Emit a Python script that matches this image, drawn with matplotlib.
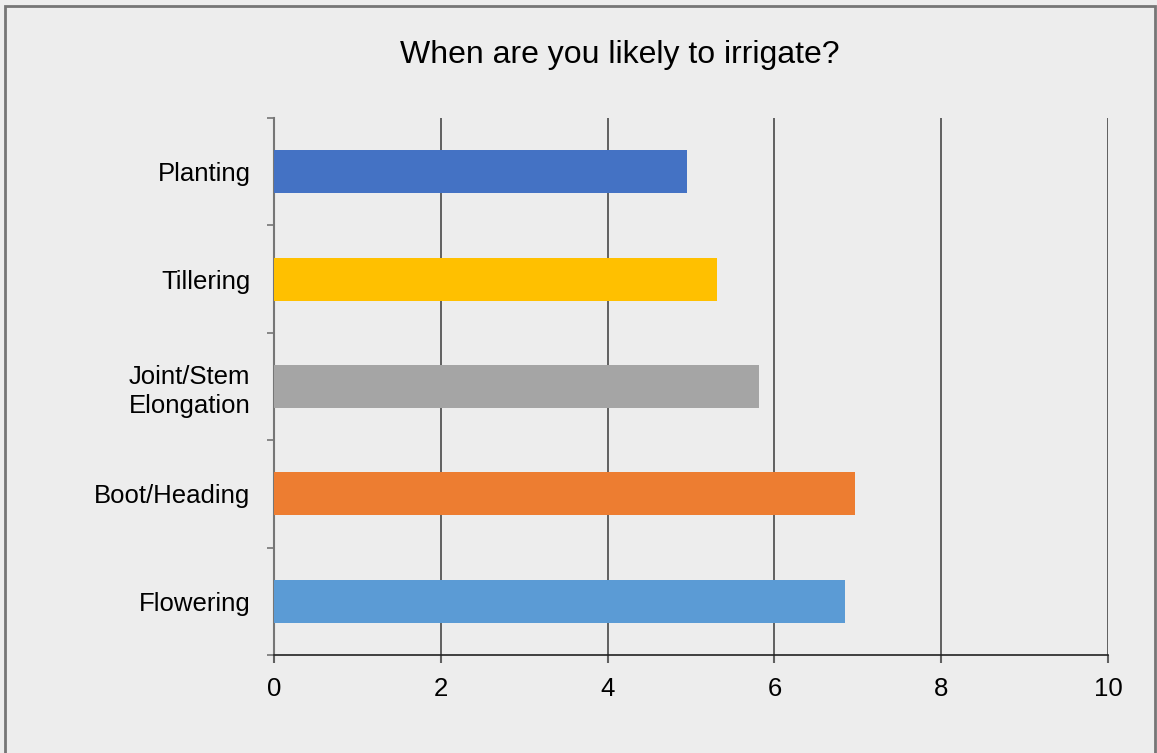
import matplotlib.pyplot as plt
from matplotlib.patches import Rectangle

plt.rcParams['font.family'] = ['Liberation Sans', 'DejaVu Sans']

stages = ['Planting', 'Tillering', 'Joint/Stem\nElongation', 'Boot/Heading', 'Flowering']
values = [4.95, 5.31, 5.82, 6.97, 6.85]
colors = ['#4472C4', '#FFC000', '#A5A5A5', '#ED7D31', '#5B9BD5']
xticks = [0, 2, 4, 6, 8, 10]

bg = '#EDEDED'
fig = plt.figure(figsize=(11.57, 7.53), dpi=100, facecolor=bg)
fig.patches.append(Rectangle((5 / 1157, -0.01), 1150 / 1157, 1.0 - 6 / 753 + 0.01,
                             transform=fig.transFigure, fill=False,
                             edgecolor='#767676', linewidth=2))
ax = fig.add_axes([274 / 1157, 1 - 655 / 753, (1108 - 274) / 1157, (655 - 118) / 753])
ax.set_facecolor(bg)

pos = list(range(len(stages)))[::-1]
ax.barh(pos, values, height=0.4, color=colors, zorder=3)

ax.set_xlim(0, 10)
ax.set_ylim(-0.5, len(stages) - 0.5)
ax.set_xticks(xticks)
ax.set_xticklabels([str(t) for t in xticks], fontsize=18.5)
ax.set_yticks(pos)
ax.set_yticklabels(stages, fontsize=18.5, linespacing=1.25)
ax.set_yticks([p - 0.5 for p in range(len(stages) + 1)], minor=True)
ax.tick_params(axis='y', which='major', length=0, pad=17)
ax.tick_params(axis='y', which='minor', length=5, color='#767676', width=1.2)
ax.tick_params(axis='x', which='major', length=6, color='#606060', width=1.5, pad=10)

ax.grid(axis='x', color='#555555', linewidth=1.3, zorder=1)
for s in ['top', 'right']:
    ax.spines[s].set_visible(False)
ax.spines['left'].set_color('#767676')
ax.spines['left'].set_linewidth(1.5)
ax.spines['bottom'].set_color('#222222')
ax.spines['bottom'].set_linewidth(1.2)
ax.spines['bottom'].set_zorder(4)

fig.text(620 / 1157, 1 - 55 / 753, 'When are you likely to irrigate?', ha='center', va='center', fontsize=23)

fig.savefig('out.png', dpi=100, facecolor=bg)
